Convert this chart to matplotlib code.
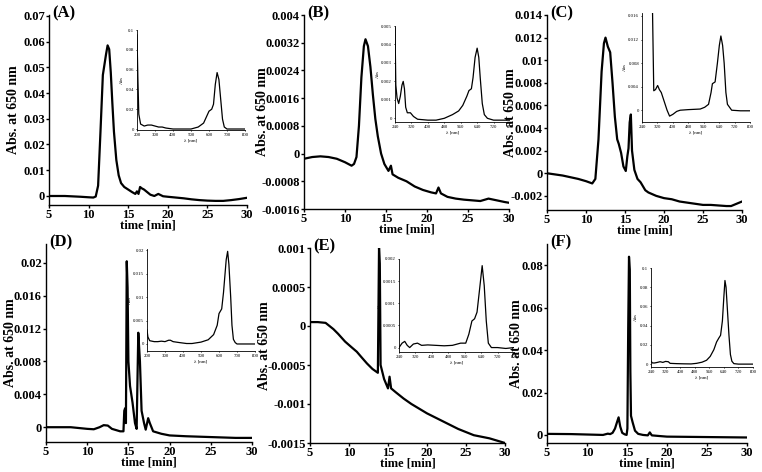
import matplotlib
matplotlib.use("Agg")
import matplotlib.pyplot as plt

plt.rcParams["font.family"] = ["Liberation Serif", "DejaVu Serif"]

W, H = 762, 472

# Chromatograms (time [min], abs at 650 nm) -------------------------------------

a_time = [5, 7, 9, 10, 10.6, 10.9, 11.2, 11.5, 11.8, 12.0, 12.2, 12.4, 12.6, 12.8, 13.0,
          13.2, 13.5, 13.8, 14.1, 14.5, 15.0, 15.5, 15.9, 16.1, 16.3, 16.5, 16.7, 17.0,
          17.4, 17.8, 18.3, 18.8, 19.0, 19.4, 20, 21, 22, 23, 24, 25, 26, 27, 28, 29, 30]
a_abs = [0.0, 0.0, -0.0003, -0.0005, -0.0006, -0.0002, 0.004, 0.025, 0.047, 0.051, 0.055,
         0.0585, 0.057, 0.048, 0.036, 0.025, 0.014, 0.008, 0.005, 0.0035, 0.0025, 0.0015,
         0.0008, 0.0018, 0.0008, 0.0035, 0.003, 0.0025, 0.0015, 0.0005, 0.0, 0.0008, 0.0005,
         -0.0001, -0.0003, -0.0006, -0.0009, -0.0013, -0.0016, -0.0018, -0.0019, -0.0019,
         -0.0016, -0.0012, -0.0007]

b_time = [5, 6, 7, 8, 9, 10, 10.8, 11.1, 11.4, 11.7, 12.0, 12.3, 12.5, 12.8, 13.1, 13.4,
          13.7, 14.0, 14.4, 14.8, 15.3, 15.6, 15.8, 16.5, 17.5, 18.5, 19.5, 20.5, 21.1,
          21.4, 21.7, 22.5, 23.5, 24.5, 25.5, 26.5, 27.5, 28.5, 29.5, 30]
b_abs = [-0.00015, -0.0001, -0.00008, -0.0001, -0.00015, -0.00025, -0.00035, -0.0003,
         -0.0001, 0.0008, 0.0022, 0.0031, 0.0033, 0.0031, 0.0025, 0.0017, 0.001, 0.0005,
         0.0, -0.0003, -0.0005, -0.00035, -0.0006, -0.0007, -0.0008, -0.00095, -0.00105,
         -0.00112, -0.00115, -0.00098, -0.00115, -0.00125, -0.0013, -0.00133, -0.00135,
         -0.00137, -0.0013, -0.00135, -0.0014, -0.00142]

c_time = [5, 7, 9, 10, 10.8, 11.2, 11.6, 12.0, 12.3, 12.5, 12.8, 13.1, 13.4, 13.7, 14.0,
          14.2, 14.5, 14.8, 15.1, 15.3, 15.45, 15.6, 15.75, 15.9, 16.2, 16.6, 17.0, 17.6,
          18, 19, 20, 21, 22, 24, 25, 26, 28, 28.6, 29.3, 30]
c_abs = [0.0, -0.0002, -0.0005, -0.0007, -0.0009, -0.0005, 0.003, 0.009, 0.0115, 0.012,
         0.0112, 0.0107, 0.008, 0.005, 0.003, 0.0026, 0.0018, 0.0006, 0.0002, 0.0015,
         0.0022, 0.0045, 0.0052, 0.002, 0.0003, -0.0005, -0.0008, -0.0015, -0.0017,
         -0.002, -0.0022, -0.0023, -0.0025, -0.0027, -0.0028, -0.0028, -0.0029, -0.0029,
         -0.0027, -0.0025]

d_time = [5, 8, 10, 10.8, 11.5, 12, 12.5, 13, 14, 14.4, 14.5, 14.6, 14.7, 14.8, 14.9,
          15.0, 15.2, 15.5, 15.8, 16.0, 16.2, 16.4, 16.6, 16.9, 17.1, 17.4, 17.6, 18, 19,
          20, 22, 25, 28, 30]
d_abs = [0.0, 0.0, -0.0002, -0.00025, 0.0, 0.00025, 0.0002, -0.0002, -0.0005, -0.0005,
         0.002, 0.0023, 0.0005, 0.0202, 0.017, 0.008, 0.005, 0.003, 0.0005, -0.0002,
         0.0115, 0.008, 0.002, 0.0005, -0.0003, 0.0011, 0.0005, -0.0005, -0.0008, -0.001,
         -0.0011, -0.0012, -0.0013, -0.0013]

e_time = [5, 6, 7, 7.5, 8, 8.6, 9.5, 10.3, 11, 11.6, 12.3, 13, 13.7, 13.85, 13.95, 14.05,
          14.5, 15.0, 15.2, 15.4, 16, 17, 18, 19, 20, 21, 22, 23, 24, 25, 26, 27, 28, 29, 30]
e_abs = [0.00005, 0.00005, 0.00004, 0.0, -0.00004, -0.0001, -0.0002, -0.00027, -0.00033,
         -0.0004, -0.00048, -0.00055, -0.0006, 0.001, 0.0008, -0.0005, -0.00068, -0.0008,
         -0.00065, -0.0008, -0.00085, -0.00093, -0.001, -0.00106, -0.00112, -0.00117,
         -0.00122, -0.00127, -0.00132, -0.00136, -0.0014, -0.00142, -0.00144, -0.00147,
         -0.0015]

f_time = [5, 8, 10, 12, 12.6, 12.9, 13.2, 13.5, 13.75, 13.95, 14.15, 14.4, 14.7, 14.95,
          15.05, 15.15, 15.25, 15.35, 15.42, 15.5, 15.7, 16.0, 16.4, 17, 17.6, 17.85, 18.1,
          19, 20, 25, 30]
f_abs = [0.0005, 0.0004, 0.0002, 0.0, 0.0006, 0.0004, 0.001, 0.003, 0.006, 0.0083, 0.004,
         0.001, 0.0003, 0.0, 0.003, 0.05, 0.084, 0.078, 0.03, 0.009, 0.006, 0.002, 0.0005,
         0.0, -0.0002, 0.0012, -0.0002, -0.0005, -0.0008, -0.001, -0.0012]

# Inset spectra (wavelength [nm], abs) --------------------------------------------

a_wl = [200, 205, 210, 220, 240, 260, 280, 300, 320, 340, 360, 400, 450, 500, 540, 570,
        590, 600, 615, 625, 635, 645, 655, 665, 675, 685, 700, 800]
a_spec = [0.095, 0.05, 0.015, 0.005, 0.003, 0.004, 0.004, 0.003, 0.002, 0.002, 0.001, 0.0,
          0.0, 0.0, 0.002, 0.006, 0.014, 0.018, 0.02, 0.025, 0.045, 0.057, 0.05, 0.03, 0.01,
          0.002, 0.0, 0.0]

b_wl = [240, 244, 250, 258, 266, 274, 280, 286, 292, 300, 315, 330, 350, 400, 440, 480,
        520, 550, 570, 590, 600, 612, 620, 630, 640, 648, 655, 665, 675, 690, 720, 800]
b_spec = [0.0049, 0.0018, 0.0011, 0.0008, 0.0012, 0.0018, 0.002, 0.0016, 0.0006, 0.0003,
          0.0003, 0.0001, -0.00005, -0.0001, -0.0001, 0.0, 0.0002, 0.0004, 0.0007, 0.0012,
          0.0015, 0.0016, 0.0022, 0.0033, 0.0038, 0.0033, 0.0022, 0.0008, 0.0002, 0.0,
          -0.0001, -0.0001]

c_wl = [293, 301, 310, 321, 330, 340, 355, 370, 383, 400, 420, 438, 480, 542, 565, 585,
        598, 605, 619, 631, 641, 649, 658, 666, 675, 683, 705, 750, 800]
c_spec = [0.02, 0.0033, 0.0035, 0.0042, 0.0035, 0.003, 0.0015, 0.0, -0.001, -0.0007,
          -0.0002, 0.0, 0.0001, 0.0002, 0.0005, 0.001, 0.003, 0.0045, 0.0048, 0.008, 0.011,
          0.0126, 0.011, 0.008, 0.003, 0.001, 0.0, -0.0001, -0.0001]

d_wl = [200, 205, 215, 240, 260, 280, 300, 320, 330, 345, 380, 420, 450, 500, 540, 570,
        590, 600, 615, 625, 640, 648, 655, 665, 672, 680, 690, 700, 800]
d_spec = [0.003, 0.0015, 0.0007, 0.0005, 0.0005, 0.0006, 0.0005, 0.0008, 0.0008, 0.0005,
          0.0003, 0.0001, 0.0001, 0.0004, 0.0009, 0.002, 0.004, 0.0065, 0.0075, 0.011,
          0.018, 0.0198, 0.017, 0.01, 0.004, 0.001, 0.0003, 0.0, 0.0]

e_wl = [240, 255, 268, 280, 292, 310, 330, 350, 380, 420, 460, 500, 540, 565, 580, 595,
        608, 620, 632, 645, 655, 665, 675, 690, 720, 760, 800]
e_spec = [0.0, 0.0001, 0.00014, 0.00005, 0.0, 0.00008, 0.0001, 0.00005, 0.00006, 0.00005,
          0.00004, 0.00005, 0.0001, 0.0001, 0.0003, 0.0006, 0.00065, 0.0008, 0.0013,
          0.00185, 0.0014, 0.0006, 0.0001, 0.0, 0.0, -0.00002, 0.0]

f_wl = [240, 248, 260, 275, 290, 305, 320, 335, 345, 380, 420, 460, 490, 520, 545, 565,
        585, 600, 612, 622, 632, 640, 646, 652, 660, 668, 676, 684, 695, 720, 800]
f_spec = [0.003, 0.0012, 0.0012, 0.0018, 0.0025, 0.0018, 0.0028, 0.0025, 0.0008, 0.0005,
          0.0003, 0.0002, 0.0008, 0.002, 0.004, 0.008, 0.015, 0.023, 0.027, 0.03, 0.045,
          0.07, 0.087, 0.08, 0.055, 0.03, 0.01, 0.003, 0.0005, 0.0, 0.0]

# Tick values / labels -----------------------------------------------------------

time_ticks = [5, 10, 15, 20, 25, 30]
a_yticks = ["0", "0.01", "0.02", "0.03", "0.04", "0.05", "0.06", "0.07"]
b_yticks = ["-0.0016", "-0.0008", "0", "0.0008", "0.0016", "0.0024", "0.0032", "0.004"]
c_yticks = ["-0.002", "0", "0.002", "0.004", "0.006", "0.008", "0.01", "0.012", "0.014"]
d_yticks = ["0", "0.004", "0.008", "0.012", "0.016", "0.02"]
e_yticks = ["-0.0015", "-0.001", "-0.0005", "0", "0.0005", "0.001"]
f_yticks = ["0", "0.02", "0.04", "0.06", "0.08"]

wl_ticks_100 = [200, 300, 400, 500, 600, 700, 800]
wl_ticks_80 = [240, 320, 400, 480, 560, 640, 720, 800]
a_inset_y = ["0", "0.02", "0.04", "0.06", "0.08", "0.1"]
b_inset_y = ["0", "0.001", "0.002", "0.003", "0.004", "0.005"]
c_inset_y = ["0", "0.004", "0.008", "0.012", "0.016"]
d_inset_y = ["0", "0.005", "0.01", "0.015", "0.02"]
e_inset_y = ["0", "0.0005", "0.001", "0.0015", "0.002"]
f_inset_y = ["0", "0.02", "0.04", "0.06", "0.08", "0.1"]


def rect(left, top, right, bottom):
    return [left / W, 1 - bottom / H, (right - left) / W, (bottom - top) / H]


def style(ax, size, lw):
    for s in ("top", "right"):
        ax.spines[s].set_visible(False)
    for s in ("left", "bottom"):
        ax.spines[s].set_linewidth(lw)
    ax.tick_params(labelsize=size, width=lw, length=2 if size > 5 else 1, pad=1)


panels = [
    # label, main rect, ylim, ylabels, time, abs, inset rect, xlim, xticks, ylim,
    # ylabels, wl, spec, x of the y-label centre
    ("(A)", (49, 15, 247, 205), (-0.0035, 0.0703), a_yticks, a_time, a_abs,
     (137, 30, 245, 130), (200, 800), wl_ticks_100, (-0.001, 0.1), a_inset_y, a_wl, a_spec, 13),
    ("(B)", (304, 15, 509, 209), (-0.0016, 0.004), b_yticks, b_time, b_abs,
     (395, 26, 510, 122), (240, 800), wl_ticks_80, (-0.0002, 0.005), b_inset_y, b_wl, b_spec, 262),
    ("(C)", (547, 15, 742, 210), (-0.00325, 0.014), c_yticks, c_time, c_abs,
     (642, 13, 750, 122), (240, 800), wl_ticks_80, (-0.002, 0.0165), c_inset_y, c_wl, c_spec, 510),
    ("(D)", (46, 244, 252, 442), (-0.0018, 0.0223), d_yticks, d_time, d_abs,
     (147, 249, 255, 351), (200, 800), wl_ticks_100, (-0.0015, 0.0203), d_inset_y, d_wl, d_spec, 10),
    ("(E)", (310, 248, 505, 443), (-0.0015, 0.001), e_yticks, e_time, e_abs,
     (399, 259, 514, 352), (240, 800), wl_ticks_80, (-0.0001, 0.002), e_inset_y, e_wl, e_spec, 264),
    ("(F)", (547, 244, 747, 443), (-0.0038, 0.09), f_yticks, f_time, f_abs,
     (651, 268, 753, 367), (240, 800), wl_ticks_80, (-0.003, 0.1), f_inset_y, f_wl, f_spec, 517),
]

fig = plt.figure(figsize=(W / 100, H / 100), dpi=100)

for (label, mrect, ylim, ylabels, t, y, irect, ixlim, ixticks, iylim, iylabels,
     wl, spec, ylab_x) in panels:
    ax = fig.add_axes(rect(*mrect))
    ax.plot(t, y, color="black", lw=1.6)
    ax.set_xlim(5, 30)
    ax.set_ylim(*ylim)
    ax.set_xticks(time_ticks)
    ax.set_xticklabels([str(v) for v in time_ticks], fontweight="bold")
    ax.set_yticks([float(v) for v in ylabels])
    ax.set_yticklabels(ylabels, fontweight="bold")
    style(ax, 9, 1.0)
    ax.set_xlabel("time [min]", fontsize=9, fontweight="bold", labelpad=-1)
    ax.set_ylabel("Abs. at 650 nm", fontsize=10, fontweight="bold")
    ax.yaxis.label.set_va("center")
    ax.yaxis.set_label_coords((ylab_x - mrect[0]) / (mrect[2] - mrect[0]), 0.5)
    fig.text((mrect[0] + 3) / W, 1 - (mrect[1] - 2) / H, label, fontsize=12,
             fontweight="bold", va="center")

    ins = fig.add_axes(rect(*irect))
    ins.plot(wl, spec, color="black", lw=0.9)
    ins.set_xlim(*ixlim)
    ins.set_ylim(*iylim)
    ins.set_xticks(ixticks)
    ins.set_yticks([float(v) for v in iylabels])
    ins.set_yticklabels(iylabels)
    style(ins, 3.5, 0.6)
    ins.set_xlabel("λ [nm]", fontsize=3.5, labelpad=1)
    ins.set_ylabel("Abs", fontsize=3.5, labelpad=1)

fig.savefig("out.png", dpi=100)
